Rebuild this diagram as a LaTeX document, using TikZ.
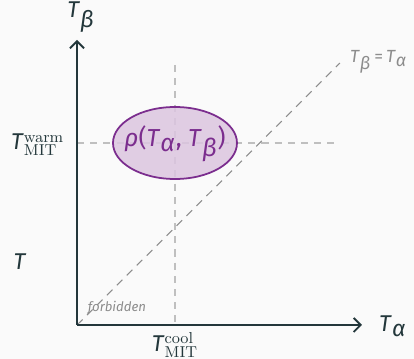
\documentclass[tikz,border=0pt]{standalone}
\usepackage[no-math]{fontspec}
\setmainfont{Fira Sans}
\usetikzlibrary{arrows.meta}
\definecolor{darktext}{HTML}{23373B}
\definecolor{bgcol}{HTML}{FAFAFA}
\definecolor{ellfill}{HTML}{DCC6E0}
\definecolor{elldraw}{HTML}{7B2D8E}
\newcommand{\tT}{\textit{T}}
\newcommand{\ga}{\textit{α}}
\newcommand{\gb}{\textit{β}}
\tikzset{
  axisline/.style={draw=darktext, line width=1.1pt, -{Straight Barb[length=4pt,width=8pt]}},
  guideline/.style={draw=black!25, line width=0.6pt, dash pattern=on 4pt off 3.5pt},
  diagline/.style={draw=black!45, line width=0.6pt, dash pattern=on 4.5pt off 3.5pt},
  axislabel/.style={text=darktext, font=\fontsize{13}{15}\selectfont}
}
\begin{document}
\begin{tikzpicture}[x=0.02cm, y=0.02cm]
            % Background and frame:
            \fill[bgcol] (0, 0) rectangle (414, 359);
            \useasboundingbox (0, 0) rectangle (414, 359);
            \coordinate (origin) at (77, 34);
            \coordinate (ytop) at (77, 319);
            \coordinate (xend) at (362, 34);
            \coordinate (diagend) at (340, 296);
            \coordinate (hend) at (340, 216);
            \coordinate (hstart) at (77, 216);
            \coordinate (vtop) at (175, 294);
            \coordinate (vbot) at (175, 34);
            % Guides:
            \draw[guideline] (hstart) -- (hend);
            \draw[guideline] (vtop) -- (vbot);
            \draw[diagline] (origin) -- (diagend);
            % Density blob:
            \fill[ellfill, opacity=0.85] (175, 216) ellipse [x radius=62, y radius=36];
            \draw[elldraw, line width=1pt] (175, 216) ellipse [x radius=62, y radius=36];
            \node[text=elldraw, font=\fontsize{14}{16}\selectfont] (rho) at (175, 215) {\textit{ρ}(\tT$_{\ga}$, \tT$_{\gb}$)};
            % Axes:
            \draw[axisline] (origin) -- (ytop);
            \draw[axisline] (origin) -- (xend);
            % Labels:
            \node[axislabel] (tbeta) at (81, 342) {\tT$_{\gb}$};
            \node[axislabel, anchor=west] (talpha) at (373, 33) {\tT$_{\ga}$};
            \node[anchor=west, text=black!45, font=\fontsize{10}{12}\selectfont, inner sep=1pt] (diaglab) at (348, 297) {\tT$_{\gb}$\,=\,\tT$_{\ga}$};
            \node[axislabel, anchor=east, inner sep=2pt] (warm) at (68, 214) {\tT$^{\mathrm{warm}}_{\mathrm{MIT}}$};
            \node[axislabel, anchor=north, inner sep=2pt] (cool) at (175, 30) {\tT$^{\mathrm{cool}}_{\mathrm{MIT}}$};
            \node[text=black!45, font=\fontsize{7.5}{9}\selectfont\itshape] (forbid) at (117, 51) {forbidden};
            \node[axislabel] (tleft) at (20, 97) {\tT};
        \end{tikzpicture}
\end{document}
